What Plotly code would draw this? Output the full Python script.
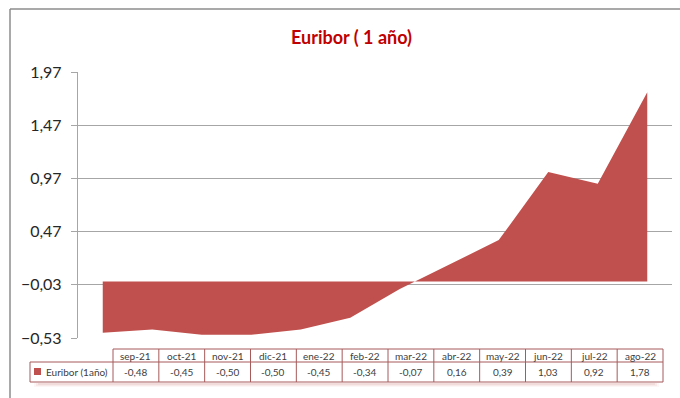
import plotly.graph_objects as go

months = ["sep-21", "oct-21", "nov-21", "dic-21", "ene-22", "feb-22",
          "mar-22", "abr-22", "may-22", "jun-22", "jul-22", "ago-22"]
values = [-0.48, -0.45, -0.50, -0.50, -0.45, -0.34, -0.07, 0.16, 0.39, 1.03, 0.92, 1.78]
series_name = "Euribor (1año)"
title_text = "Euribor ( 1 año)"
ytick_vals = [-0.53, -0.03, 0.47, 0.97, 1.47, 1.97]

W, H = 680, 398
L, R, T, B = 78, 8, 72, 60
PW, PH = W - L - R, H - T - B

def xp(px):
    return (px - L) / PW

def yp(py):
    return (H - B - py) / PH

RED = "#c0504d"
GRID = "#a6a6a6"
TBL = "#a65a5a"
TXT = "#404040"
FONT = "Lato, 'Open Sans', sans-serif"

fig = go.Figure()
fig.add_trace(go.Scatter(
    x=months, y=values, mode="lines", fill="tozeroy",
    fillcolor=RED, line=dict(width=0, color=RED), name=series_name,
    hoverinfo="x+y"))

shapes = []
annotations = []

# outer chart border (left and top visible)
shapes.append(dict(type="line", xref="paper", yref="paper",
                   x0=xp(10), x1=xp(10), y0=yp(9), y1=yp(400),
                   line=dict(color="#8c8c8c", width=1.5)))
shapes.append(dict(type="line", xref="paper", yref="paper",
                   x0=xp(10), x1=xp(682), y0=yp(9), y1=yp(9),
                   line=dict(color="#8c8c8c", width=1.5)))

# data table
tbl_left, tbl_right = 113, 663
col_w = (tbl_right - tbl_left) / len(months)
hdr_top, row_top, row_bot = 349, 362, 382
leg_left = 30
line_style = dict(color=TBL, width=1)

shapes.append(dict(type="line", xref="paper", yref="paper",
                   x0=xp(tbl_left), x1=xp(tbl_right), y0=yp(hdr_top), y1=yp(hdr_top), line=line_style))
shapes.append(dict(type="line", xref="paper", yref="paper",
                   x0=xp(leg_left), x1=xp(tbl_right), y0=yp(row_top), y1=yp(row_top), line=line_style))
shapes.append(dict(type="line", xref="paper", yref="paper",
                   x0=xp(leg_left), x1=xp(tbl_right), y0=yp(row_bot), y1=yp(row_bot), line=line_style))
shapes.append(dict(type="line", xref="paper", yref="paper",
                   x0=xp(leg_left), x1=xp(leg_left), y0=yp(row_top), y1=yp(row_bot), line=line_style))
for i in range(len(months) + 1):
    xx = tbl_left + i * col_w
    shapes.append(dict(type="line", xref="paper", yref="paper",
                       x0=xp(xx), x1=xp(xx), y0=yp(hdr_top), y1=yp(row_bot), line=line_style))

# soft glow under the table row
for k, a in enumerate([0.05, 0.07, 0.09]):
    shapes.append(dict(type="rect", xref="paper", yref="paper", layer="below",
                       x0=xp(leg_left + 4 + 2 * k), x1=xp(tbl_right - 4 - 2 * k),
                       y0=yp(383 + 4 - k), y1=yp(383),
                       fillcolor=f"rgba(192,80,77,{a})", line=dict(width=0)))

for i, (m, v) in enumerate(zip(months, values)):
    cx = tbl_left + (i + 0.5) * col_w
    annotations.append(dict(xref="paper", yref="paper", x=xp(cx), y=yp((hdr_top + row_top) / 2),
                            text=m, showarrow=False, font=dict(family=FONT, size=10, color=TXT),
                            xanchor="center", yanchor="middle"))
    annotations.append(dict(xref="paper", yref="paper", x=xp(cx), y=yp((row_top + row_bot) / 2),
                            text=f"{v:.2f}".replace(".", ","), showarrow=False,
                            font=dict(family=FONT, size=10, color=TXT),
                            xanchor="center", yanchor="middle"))

# legend key + label
shapes.append(dict(type="rect", xref="paper", yref="paper",
                   x0=xp(34), x1=xp(41), y0=yp(375), y1=yp(368),
                   fillcolor=RED, line=dict(width=0)))
annotations.append(dict(xref="paper", yref="paper", x=xp(44), y=yp((row_top + row_bot) / 2),
                        text=series_name, showarrow=False,
                        font=dict(family=FONT, size=10, color=TXT),
                        xanchor="left", yanchor="middle"))

# title
annotations.append(dict(xref="paper", yref="paper", x=xp(351), y=yp(37),
                        text=f"<b>{title_text}</b>", showarrow=False,
                        font=dict(family=FONT, size=18, color="#c00000"),
                        xanchor="center", yanchor="middle"))

fig.update_layout(
    width=W, height=H,
    margin=dict(l=L, r=R, t=T, b=B),
    paper_bgcolor="white", plot_bgcolor="white",
    separators=",.",
    showlegend=False,
    shapes=shapes,
    annotations=annotations,
    xaxis=dict(type="category", range=[-0.5, len(months) - 0.5],
               showticklabels=False, showgrid=False, zeroline=False,
               showline=False, ticks=""),
    yaxis=dict(range=[ytick_vals[0], ytick_vals[-1]], tickvals=ytick_vals,
               tickformat=".2f", showgrid=True, gridcolor=GRID, gridwidth=1.3,
               zeroline=False, showline=True, linecolor=GRID, linewidth=1.3,
               ticks="outside", ticklen=6, tickcolor=GRID, tickwidth=1.3,
               ticklabelstandoff=6,
               tickfont=dict(family=FONT, size=16, color="#262626")),
)

fig.write_html("out.html")
